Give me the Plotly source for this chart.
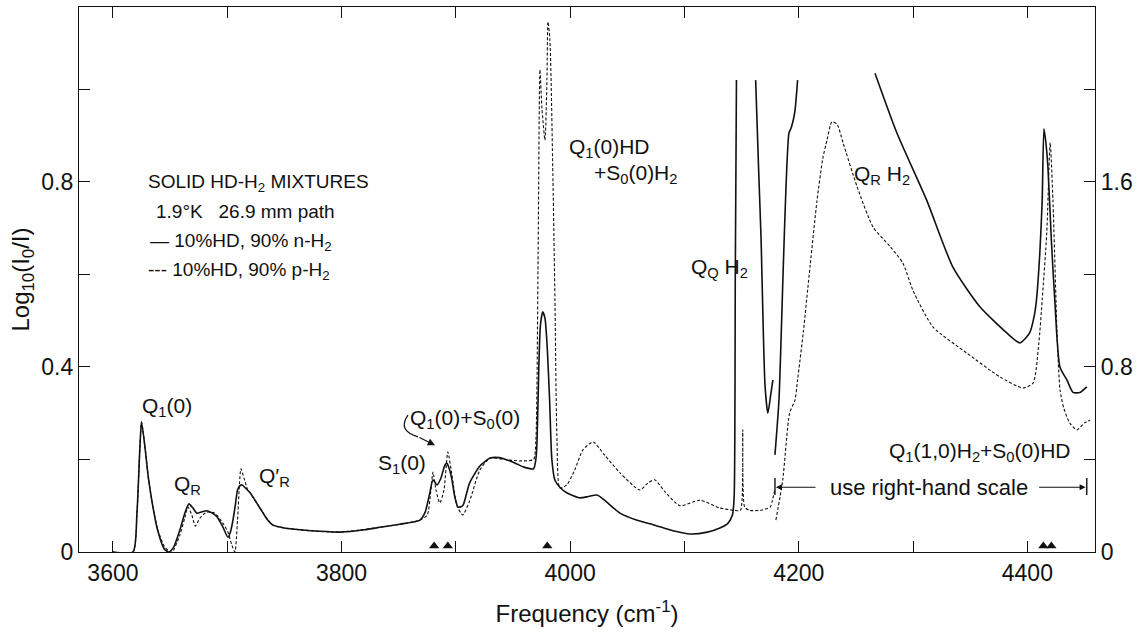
import plotly.graph_objects as go

# ---------------- data ----------------
# solid curve: 10% HD, 90% n-H2 (left-hand scale), two pieces (goes off scale between)
solid_a_f = [3600, 3617.5, 3621, 3623.6, 3625, 3628, 3631, 3635, 3639, 3645, 3649, 3653, 3658.6,
             3663, 3666.5, 3670, 3673.5, 3678, 3682, 3687, 3691, 3696, 3700.6, 3703, 3705, 3707,
             3709, 3711, 3713, 3716, 3720, 3728.6, 3735, 3740, 3750, 3763.6, 3780, 3798.6, 3820,
             3835, 3851, 3868.6, 3873, 3877, 3880, 3883.5, 3887, 3890, 3892, 3894.5, 3896.6, 3899,
             3902, 3906, 3912, 3921, 3930, 3938, 3945, 3952, 3959, 3968, 3970, 3971, 3972.7, 3974,
             3976, 3978, 3980, 3982, 3984, 3986.7, 3991, 3997, 4008.6, 4016, 4023.5, 4030, 4043.6,
             4058, 4074, 4090, 4105, 4120, 4131, 4138, 4142, 4143.5, 4144.5, 4145.5]
solid_a_v = [0, 0, 0.084, 0.227, 0.281, 0.227, 0.16, 0.097, 0.048, 0.006, 0.0, 0.01, 0.048,
             0.085, 0.104, 0.095, 0.084, 0.087, 0.089, 0.084, 0.076, 0.055, 0.032, 0.045, 0.069, 0.10,
             0.134, 0.143, 0.145, 0.138, 0.128, 0.095, 0.07, 0.058, 0.052, 0.048, 0.045, 0.043, 0.048,
             0.054, 0.06, 0.069, 0.085, 0.125, 0.156, 0.145, 0.16, 0.185, 0.192, 0.178, 0.156, 0.12,
             0.097, 0.10, 0.149, 0.186, 0.203, 0.204, 0.199, 0.192, 0.184, 0.18, 0.2, 0.236, 0.41, 0.49,
             0.519, 0.505, 0.44, 0.33, 0.2, 0.155, 0.14, 0.128, 0.117, 0.12, 0.123, 0.112, 0.084,
             0.069, 0.058, 0.046, 0.039, 0.043, 0.052, 0.062, 0.08, 0.12, 0.6, 1.02]
solid_b_f = [4162.3, 4165, 4167, 4170.5, 4173, 4175.5, 4177.4]
solid_b_v = [1.02, 0.82, 0.68, 0.36, 0.30, 0.34, 0.372]
# solid curve on right-hand scale
solid_c_f = [4179.2, 4182.7, 4191.4, 4193.5, 4196.5, 4199]
solid_c_v = [0.42, 0.657, 1.81, 1.835, 1.9, 2.04]
solid_d_f = [4266.7, 4286, 4312, 4335, 4358.5, 4382, 4393.5, 4402, 4406, 4408, 4411, 4413, 4414.5,
             4416, 4418, 4421, 4424, 4428.5, 4434.6, 4440, 4446, 4452]
solid_d_v = [2.07, 1.81, 1.52, 1.23, 1.06, 0.947, 0.904, 0.947, 1.02, 1.09, 1.3, 1.52, 1.83,
             1.78, 1.665, 1.35, 1.09, 0.80, 0.744, 0.69, 0.69, 0.714]

# dashed curve: 10% HD, 90% p-H2
dash_a_f = [3600, 3617.5, 3621, 3623.6, 3625, 3628, 3631, 3635, 3639, 3645, 3650, 3652, 3658.6,
            3663, 3665.6, 3669, 3672, 3676, 3682, 3689, 3696, 3700.6, 3704, 3706.7, 3709, 3712,
            3714.6, 3718, 3720, 3728.6, 3740, 3763.6, 3798.6, 3835, 3851, 3868.6, 3875, 3878, 3880,
            3882.6, 3886, 3889.6, 3893, 3896.6, 3901, 3906, 3912, 3921, 3930, 3945, 3956, 3968, 3970,
            3972, 3973.6, 3975.3, 3978, 3979.7, 3980.6, 3982.3, 3985, 3986.7, 3988.5, 3991, 3997,
            4004, 4011, 4020, 4030, 4043.6, 4061, 4068, 4074, 4083, 4096, 4113.6, 4131, 4144, 4149,
            4151, 4152.7, 4157, 4166, 4175, 4177, 4179]
dash_a_v = [0, 0, 0.084, 0.227, 0.281, 0.227, 0.16, 0.097, 0.05, 0.012, 0.0, 0.0, 0.037,
            0.075, 0.097, 0.08, 0.056, 0.073, 0.086, 0.084, 0.063, 0.043, 0.015, 0.0, 0.069, 0.18,
            0.16, 0.134, 0.128, 0.095, 0.058, 0.048, 0.043, 0.054, 0.06, 0.069, 0.08, 0.13, 0.173,
            0.134, 0.106, 0.134, 0.216, 0.166, 0.10, 0.08, 0.11, 0.177, 0.203, 0.199, 0.197, 0.2, 0.24,
            0.65, 1.042, 0.96, 0.89, 1.02, 1.146, 1.107, 0.80, 0.545, 0.24, 0.138, 0.145,
            0.177, 0.22, 0.238, 0.21, 0.171, 0.134, 0.149, 0.156, 0.13, 0.10, 0.112, 0.095, 0.09, 0.09,
            0.264, 0.097, 0.09, 0.09, 0.097, 0.112, 0.134]
dash_b_f = [4180, 4186, 4192, 4196.7, 4199, 4204, 4210, 4216, 4221, 4224.7, 4229, 4233.5, 4238.7,
            4251, 4265, 4280, 4291, 4300, 4317.4, 4347, 4376, 4396, 4405, 4410, 4413, 4417, 4420,
            4422.4, 4426, 4428.6, 4432, 4437, 4443.4, 4450, 4455]
dash_b_v = [0.138, 0.311, 0.60, 0.657, 0.744, 0.95, 1.24, 1.52, 1.7, 1.78, 1.86, 1.85, 1.77,
            1.58, 1.405, 1.32, 1.25, 1.13, 0.973, 0.86, 0.757, 0.709, 0.73, 0.9, 1.09, 1.38, 1.77,
            1.52, 0.947, 0.70, 0.62, 0.558, 0.528, 0.558, 0.57]

# line-position markers (triangles on the frequency axis)
marker_f = [3881, 3893, 3980, 4414, 4421]

# axis ticks
x_ticks = [3600, 3700, 3800, 3900, 4000, 4100, 4200, 4300, 4400]
x_labels = ["3600", "", "3800", "", "4000", "", "4200", "", "4400"]
yl_ticks = [0, 0.2, 0.4, 0.6, 0.8, 1.0]
yl_labels = ["0", "", "0.4", "", "0.8", ""]
yr_ticks = [0, 0.4, 0.8, 1.2, 1.6, 2.0]
yr_labels = ["0", "", "0.8", "", "1.6", ""]

FONT = "Liberation Sans"
BLACK = "#111"

fig = go.Figure()
dash_style = dict(color=BLACK, width=1.1, dash="3px,2px", shape="spline", smoothing=0.6)
solid_style = dict(color=BLACK, width=1.6, shape="spline", smoothing=0.6)

fig.add_trace(go.Scatter(x=dash_a_f, y=dash_a_v, mode="lines", line=dash_style, yaxis="y"))
fig.add_trace(go.Scatter(x=dash_b_f, y=dash_b_v, mode="lines", line=dash_style, yaxis="y2"))
fig.add_trace(go.Scatter(x=solid_a_f, y=solid_a_v, mode="lines", line=solid_style, yaxis="y"))
fig.add_trace(go.Scatter(x=solid_b_f, y=solid_b_v, mode="lines", line=solid_style, yaxis="y"))
fig.add_trace(go.Scatter(x=solid_c_f, y=solid_c_v, mode="lines", line=solid_style, yaxis="y2"))
fig.add_trace(go.Scatter(x=solid_d_f, y=solid_d_v, mode="lines", line=solid_style, yaxis="y2"))
fig.add_trace(go.Scatter(x=marker_f, y=[0.013] * len(marker_f), mode="markers",
                         marker=dict(symbol="triangle-up", size=9, color=BLACK), yaxis="y"))

tickfont = dict(family=FONT, size=23, color=BLACK)
fig.update_layout(
    width=1147, height=634,
    margin=dict(l=79, r=52, t=7, b=82),
    paper_bgcolor="white", plot_bgcolor="white",
    showlegend=False,
    xaxis=dict(range=[3570.3, 4459.2], tickvals=x_ticks, ticktext=x_labels,
               ticks="inside", ticklen=11, tickwidth=1.2, tickcolor=BLACK,
               showline=True, linecolor=BLACK, linewidth=1.4, mirror="ticks",
               showgrid=False, zeroline=False, tickfont=tickfont,
               title=dict(text="Frequency (cm<sup>-1</sup>)", font=dict(family=FONT, size=24, color=BLACK),
                          standoff=20)),
    yaxis=dict(range=[0, 1.178], tickvals=yl_ticks, ticktext=yl_labels,
               ticks="inside", ticklen=11, tickwidth=1.2, tickcolor=BLACK,
               showline=True, linecolor=BLACK, linewidth=1.4,
               showgrid=False, zeroline=False, tickfont=tickfont,
               title=dict(text="Log<sub>10</sub>(I<sub>0</sub>/I)", font=dict(family=FONT, size=24, color=BLACK),
                          standoff=4)),
    yaxis2=dict(range=[0, 2.356], tickvals=yr_ticks, ticktext=yr_labels, overlaying="y", side="right",
                ticks="inside", ticklen=11, tickwidth=1.2, tickcolor=BLACK,
                showline=True, linecolor=BLACK, linewidth=1.4,
                showgrid=False, zeroline=False, tickfont=tickfont),
)

def label(x, y, text, size=21, xanchor="center"):
    fig.add_annotation(x=x, y=y, xref="x", yref="y", text=text, showarrow=False,
                       xanchor=xanchor, yanchor="middle",
                       font=dict(family=FONT, size=size, color=BLACK))

# legend block
label(3628.5, 0.798, "SOLID HD-H<sub>2</sub> MIXTURES", size=19, xanchor="left")
label(3635.5, 0.735, "1.9°K   26.9 mm path", size=19, xanchor="left")
label(3631, 0.670, "— 10%HD, 90% n-H<sub>2</sub>", size=19, xanchor="left")
label(3628.5, 0.608, "--- 10%HD, 90% p-H<sub>2</sub>", size=19, xanchor="left")

# peak labels
label(3647, 0.313, "Q<sub>1</sub>(0)")
label(3665.6, 0.145, "Q<sub>R</sub>")
label(3741, 0.162, "Q′<sub>R</sub>")
label(3853, 0.19, "S<sub>1</sub>(0)")
label(3908, 0.288, "Q<sub>1</sub>(0)+S<sub>0</sub>(0)")
label(3997, 0.874, "Q<sub>1</sub>(0)HD", xanchor="left")
label(4019, 0.818, "+S<sub>0</sub>(0)H<sub>2</sub>", xanchor="left")
label(4131, 0.614, "Q<sub>Q</sub> H<sub>2</sub>")
label(4273, 0.815, "Q<sub>R</sub> H<sub>2</sub>")
label(4440, 0.216, "Q<sub>1</sub>(1,0)H<sub>2</sub>+S<sub>0</sub>(0)HD", xanchor="right")
label(4314, 0.14, "use right-hand scale", size=22)

# curved arrow for Q1(0)+S0(0)
fig.add_shape(type="path", xref="x", yref="y",
              path="M 3858.1,0.296 Q 3848.5,0.262 3866.8,0.249",
              line=dict(color=BLACK, width=1.2))
fig.add_annotation(x=3881.7, y=0.231, ax=3866.8, ay=0.249, xref="x", yref="y", axref="x", ayref="y",
                   text="", showarrow=True, arrowhead=2, arrowsize=1.2, arrowwidth=1.2, arrowcolor=BLACK)

# "use right-hand scale" bracket
for xb in (4179.2, 4452):
    fig.add_shape(type="line", xref="x", yref="y", x0=xb, x1=xb, y0=0.123, y1=0.160,
                  line=dict(color=BLACK, width=1.4))
fig.add_annotation(x=4180, y=0.14, ax=4216, ay=0.14, xref="x", yref="y", axref="x", ayref="y",
                   text="", showarrow=True, arrowhead=2, arrowsize=1, arrowwidth=1.2, arrowcolor=BLACK)
fig.add_annotation(x=4451, y=0.14, ax=4409, ay=0.14, xref="x", yref="y", axref="x", ayref="y",
                   text="", showarrow=True, arrowhead=2, arrowsize=1, arrowwidth=1.2, arrowcolor=BLACK)

fig.write_html("out.html")
